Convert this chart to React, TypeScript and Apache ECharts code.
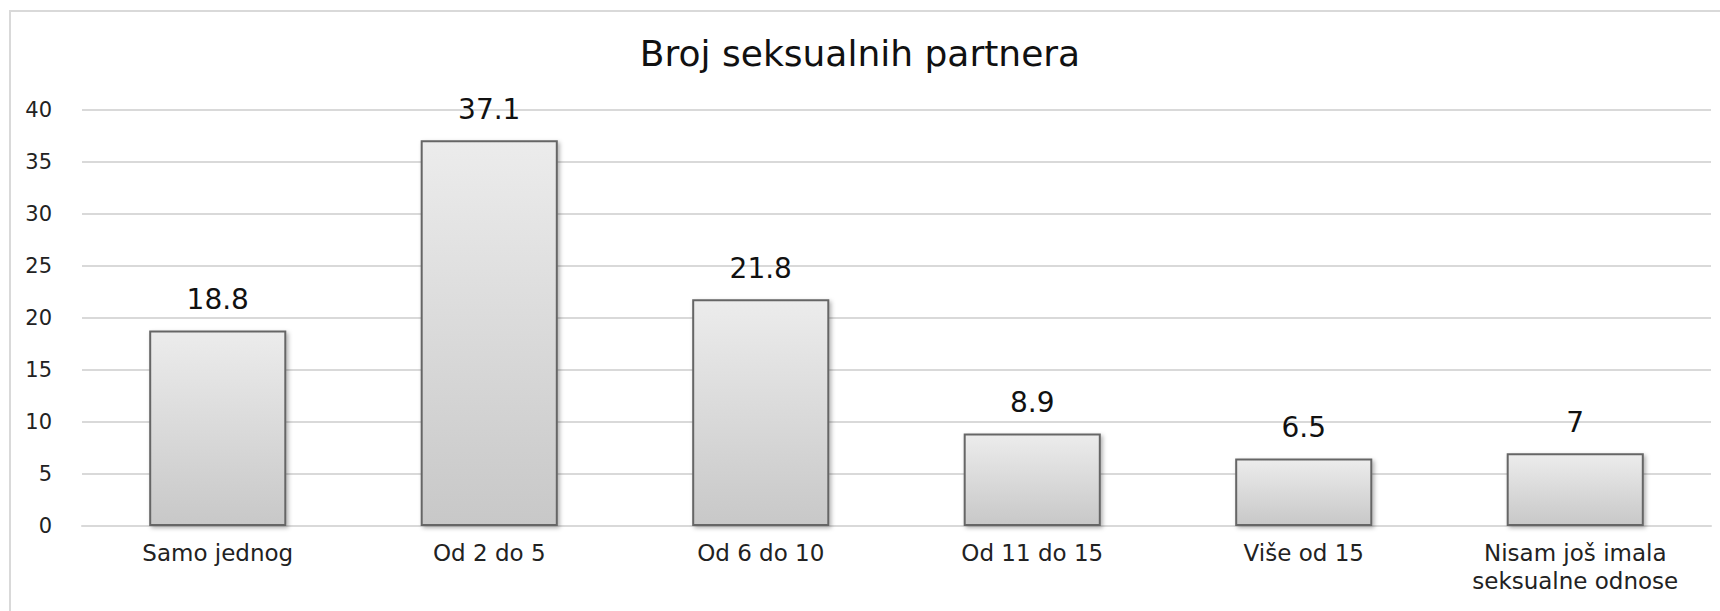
import React, { useEffect, useRef } from "react";
import * as echarts from "echarts";

const titleText = "Broj seksualnih partnera";
const categories = [
  "Samo jednog",
  "Od 2 do 5",
  "Od 6 do 10",
  "Od 11 do 15",
  "Više od 15",
  "Nisam još imala\nseksualne odnose",
];
const values = [18.8, 37.1, 21.8, 8.9, 6.5, 7];
const yMin = 0;
const yMax = 40;
const yInterval = 5;

const FONT = "'DejaVu Sans', 'Noto Sans', sans-serif";

export default function App() {
  const ref = useRef<HTMLDivElement>(null);
  useEffect(() => {
    document.body.style.margin = "0";
    if (!ref.current) return;
    const chart = echarts.init(ref.current, null, { renderer: "svg" });
    chart.setOption({
      animation: false,
      backgroundColor: "#ffffff",
      textStyle: { fontFamily: FONT },
      graphic: [
        {
          type: "rect",
          shape: { x: 10, y: 11, width: 1730, height: 640 },
          style: { fill: "none", stroke: "#d9d9d9", lineWidth: 2 },
          silent: true,
          z: -10,
        },
      ],
      title: {
        text: titleText,
        left: "center",
        top: 30,
        textStyle: { fontFamily: FONT, fontSize: 36, fontWeight: "normal", color: "#111" },
      },
      grid: { left: 82, right: 9, top: 110, bottom: 85, containLabel: false },
      xAxis: {
        type: "category",
        data: categories,
        axisLine: { show: true, lineStyle: { color: "#d9d9d9", width: 2 } },
        axisTick: { show: false },
        axisLabel: {
          color: "#222",
          fontSize: 23,
          fontFamily: FONT,
          margin: 13,
          lineHeight: 28,
          interval: 0,
        },
      },
      yAxis: {
        type: "value",
        min: yMin,
        max: yMax,
        interval: yInterval,
        axisLine: { show: false },
        axisTick: { show: false },
        splitLine: { lineStyle: { color: "#d9d9d9", width: 2 } },
        axisLabel: { color: "#222", fontSize: 21, fontFamily: FONT, margin: 30 },
      },
      series: [
        {
          type: "bar",
          data: values,
          barCategoryGap: "49.5%",
          itemStyle: {
            color: new echarts.graphic.LinearGradient(0, 0, 0, 1, [
              { offset: 0, color: "#ececec" },
              { offset: 1, color: "#c8c8c8" },
            ]),
            borderColor: "#666666",
            borderWidth: 2,
            shadowColor: "rgba(0,0,0,0.3)",
            shadowBlur: 4,
            shadowOffsetX: 2,
            shadowOffsetY: 2,
          },
          label: {
            show: true,
            position: "top",
            distance: 17,
            fontSize: 28,
            fontFamily: FONT,
            color: "#111",
          },
        },
      ],
    });
    return () => chart.dispose();
  }, []);
  return <div ref={ref} style={{ width: 1720, height: 611 }} />;
}
